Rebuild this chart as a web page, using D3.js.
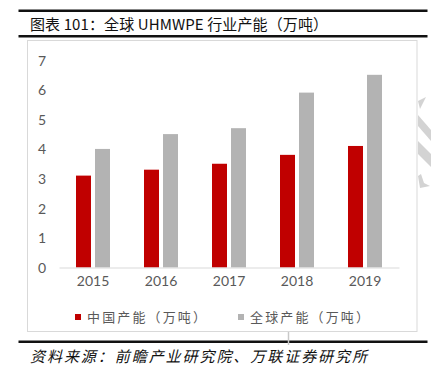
<!DOCTYPE html>
<html><head><meta charset="utf-8">
<script src="https://cdn.jsdelivr.net/npm/d3@7"></script>
<style>html,body{margin:0;padding:0;background:#fff;}svg{display:block;}</style>
</head><body>
<script>
const years = ["2015","2016","2017","2018","2019"];
const seriesNames = ["中国产能（万吨）","全球产能（万吨）"];
const chinaValues = [3.1, 3.3, 3.5, 3.8, 4.1];
const globalValues = [4.0, 4.5, 4.7, 5.9, 6.5];
const yTicks = [0,1,2,3,4,5,6,7];
const colors = ["#c00000","#b3b3b3"];
const titleText = "图表 101：全球 UHMWPE 行业产能（万吨）";
const sourceText = "资料来源：前瞻产业研究院、万联证券研究所";

const W = 431, H = 380;
const svg = d3.select("body").append("svg").attr("width", W).attr("height", H);

// frame lines
svg.append("rect").attr("x",18.5).attr("y",9.5).attr("width",409).attr("height",2.5).attr("fill","#111");
svg.append("rect").attr("x",18.5).attr("y",35).attr("width",409).attr("height",2.5).attr("fill","#111");
svg.append("rect").attr("x",18.5).attr("y",340.5).attr("width",409).attr("height",2.5).attr("fill","#111");

svg.append("text").attr("x",30).attr("y",29.5)
  .attr("font-family","'Noto Sans CJK SC', sans-serif").attr("font-size",15)
  .attr("fill","#111").attr("textLength",298).attr("lengthAdjust","spacing")
  .text(titleText);

// chart box
svg.append("rect").attr("x",27.5).attr("y",40.5).attr("width",389.5).attr("height",291)
  .attr("fill","none").attr("stroke","#d9d9d9").attr("stroke-width",1);

// watermark
const wm = svg.append("g").attr("fill","#d3d3d3");
[
  [[418,101],[426,97],[420,109]],
  [[418,115],[418,126],[431,141],[431,130]],
  [[418,141],[418,154],[431,167],[431,154]],
  [[418,176],[420,188],[430,186],[424,183],[421,174]]
].forEach(p => wm.append("polygon").attr("points", p.map(d=>d.join(",")).join(" ")));
svg.append("line").attr("x1",288.5).attr("x2",288.5).attr("y1",332).attr("y2",345).attr("stroke","#c8c8c8").attr("stroke-width",1.5);

const x0 = d3.scaleBand().domain(years).range([59,399]);
const x1 = d3.scaleBand().domain([0,1]).range([17,51]).paddingInner(0.2105);
const y = d3.scaleLinear().domain([0,7]).range([267.5,60]);

// y axis labels
const yAxis = d3.axisLeft(y).tickValues(yTicks).tickSize(0).tickPadding(0).tickFormat(d3.format("d"));
const ya = svg.append("g").attr("transform","translate(47,0)").call(yAxis);
ya.select(".domain").remove();
ya.selectAll("text").attr("font-family","Lato, 'Open Sans', sans-serif").attr("font-size",14)
  .attr("fill","#595959").attr("text-anchor","middle").attr("x",-5).attr("dy","0.36em");

// bars
const data = years.map((yr,i)=>({year:yr, vals:[chinaValues[i], globalValues[i]]}));
const g = svg.append("g");
data.forEach(d=>{
  d.vals.forEach((v,k)=>{
    g.append("rect")
      .attr("x", x0(d.year)+x1(k))
      .attr("width", x1.bandwidth())
      .attr("y", y(v))
      .attr("height", y(0)-y(v))
      .attr("fill", colors[k]);
  });
});

// x axis
const xAxis = d3.axisBottom(x0).tickSize(0).tickPadding(9);
const xa = svg.append("g").attr("transform",`translate(0,${y(0)})`).call(xAxis);
xa.select(".domain").attr("stroke","#d9d9d9").attr("stroke-width",1.2);
xa.selectAll("text").attr("font-family","Lato, 'Open Sans', sans-serif").attr("font-size",14).attr("fill","#595959");

// legend
const lg = svg.append("g").attr("font-family","'Noto Sans CJK SC', sans-serif").attr("font-size",13).attr("fill","#595959");
const legX = [75, 238];
seriesNames.forEach((n,k)=>{
  lg.append("rect").attr("x",legX[k]).attr("y",314).attr("width",6).attr("height",6).attr("fill",colors[k]);
  lg.append("text").attr("x",legX[k]+12).attr("y",322).attr("textLength",119).attr("lengthAdjust","spacing").text(n);
});

// source
svg.append("text").attr("x",30).attr("y",362)
  .attr("font-family","'Noto Sans CJK SC', sans-serif").attr("font-size",15).attr("font-style","italic")
  .attr("fill","#111").attr("textLength",337).attr("lengthAdjust","spacing")
  .text(sourceText);
</script>
</body></html>
